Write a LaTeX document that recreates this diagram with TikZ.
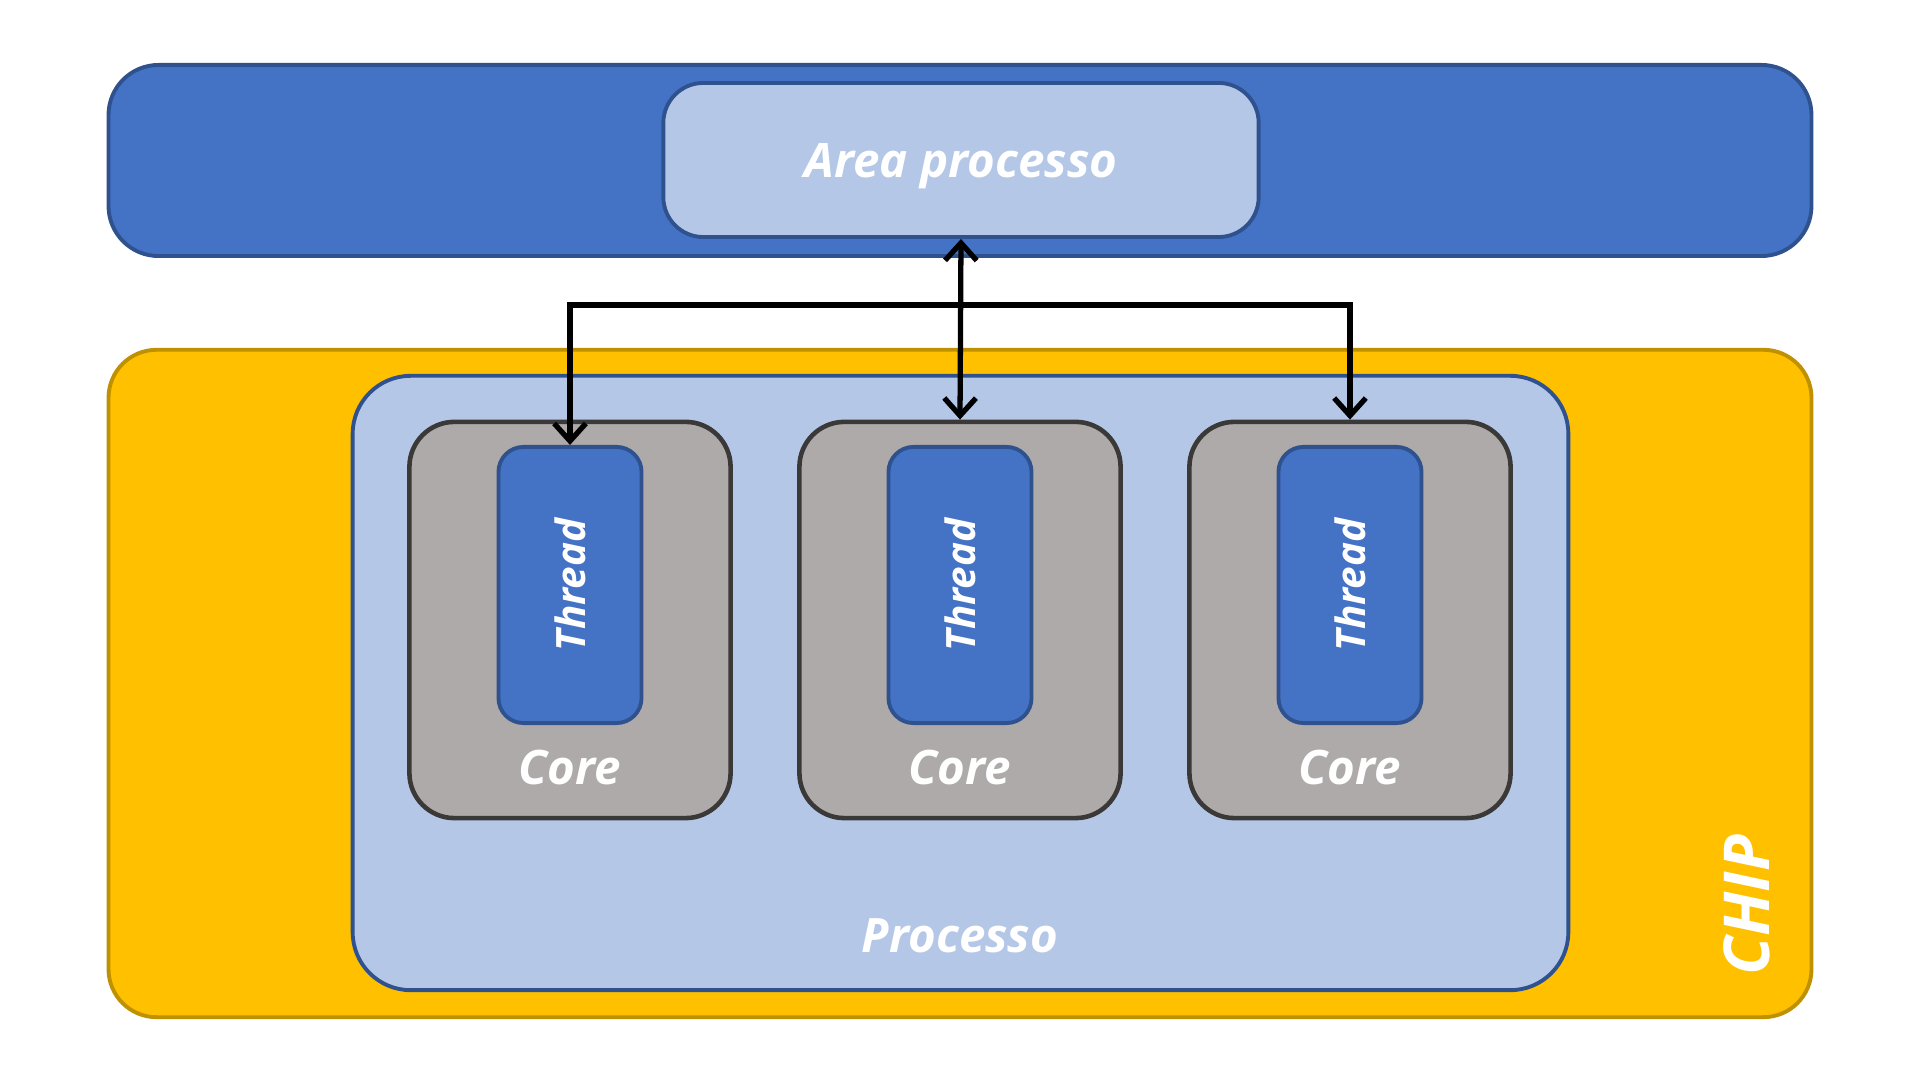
\documentclass[tikz,border=0pt]{standalone}
\usepackage{fontspec}
\setmainfont{Open Sans}
\usetikzlibrary{arrows.meta}

\definecolor{barblue}{HTML}{4472C4}
\definecolor{lineblue}{HTML}{2F528F}
\definecolor{paleblue}{HTML}{B4C7E7}
\definecolor{chipyellow}{HTML}{FFC000}
\definecolor{lineyellow}{HTML}{BF9000}
\definecolor{coregray}{HTML}{AEAAAA}
\definecolor{linegray}{HTML}{3B3838}

\tikzset{
    box/.style={draw, line width=1.1pt, inner sep=0pt},
    lbl/.style={text=white, font=\bfseries\itshape, inner sep=0pt},
    link/.style={line width=1.5pt, {Straight Barb[length=5pt,width=9pt]}-{Straight Barb[length=5pt,width=9pt]}},
}

\begin{document}
\begin{tikzpicture}[x=0.01cm, y=-0.01cm]
    \useasboundingbox (0,0) rectangle (1920,1080);

    \node[box, fill=barblue, draw=lineblue, rounded corners=0.5cm, minimum width=17.02cm, minimum height=1.91cm] (bar) at (960,160.5) {};
    \node[box, fill=paleblue, draw=lineblue, rounded corners=0.4cm, minimum width=5.95cm, minimum height=1.54cm, lbl, text=white, text height=10.5pt, text depth=0.5pt, font=\fontsize{13.5}{16}\selectfont\bfseries\itshape] (area) at (961,160) {Area processo};

    \node[box, fill=chipyellow, draw=lineyellow, rounded corners=0.48cm, minimum width=17.02cm, minimum height=6.67cm] (chip) at (960,683.5) {};
    \node[box, fill=paleblue, draw=lineblue, rounded corners=0.58cm, minimum width=12.15cm, minimum height=6.14cm] (proc) at (960.5,683) {};

    % cores
    \node[box, fill=coregray, draw=linegray, line width=1.3pt, rounded corners=0.45cm, minimum width=3.21cm, minimum height=3.96cm] (c1) at (570,620) {};
    \node[box, fill=coregray, draw=linegray, line width=1.3pt, rounded corners=0.45cm, minimum width=3.21cm, minimum height=3.96cm] (c2) at (960,620) {};
    \node[box, fill=coregray, draw=linegray, line width=1.3pt, rounded corners=0.45cm, minimum width=3.21cm, minimum height=3.96cm] (c3) at (1350,620) {};

    % threads
    \node[box, fill=barblue, draw=lineblue, rounded corners=0.25cm, minimum width=1.43cm, minimum height=2.76cm] (t1) at (570,585) {};
    \node[box, fill=barblue, draw=lineblue, rounded corners=0.25cm, minimum width=1.43cm, minimum height=2.76cm] (t2) at (960,585) {};
    \node[box, fill=barblue, draw=lineblue, rounded corners=0.25cm, minimum width=1.43cm, minimum height=2.76cm] (t3) at (1350,585) {};

    \node[lbl, rotate=90, font=\fontsize{11.5}{14}\selectfont\bfseries\itshape] (tl1) at (t1) {Thread};
    \node[lbl, rotate=90, font=\fontsize{11.5}{14}\selectfont\bfseries\itshape] (tl2) at (t2) {Thread};
    \node[lbl, rotate=90, font=\fontsize{11.5}{14}\selectfont\bfseries\itshape] (tl3) at (t3) {Thread};

    \node[lbl, font=\fontsize{13.5}{16}\selectfont\bfseries\itshape] (cl1) at (570,768) {Core};
    \node[lbl, font=\fontsize{13.5}{16}\selectfont\bfseries\itshape] (cl2) at (960,768) {Core};
    \node[lbl, font=\fontsize{13.5}{16}\selectfont\bfseries\itshape] (cl3) at (1350,768) {Core};

    \node[lbl, font=\fontsize{13.5}{16}\selectfont\bfseries\itshape] (pl) at (960,936) {Processo};
    \node[lbl, rotate=90, font=\fontsize{18}{21}\selectfont\bfseries\itshape] (chipl) at (1747,905) {CHIP};

    % links to the process area
    \coordinate (bus) at (960,305);
    \draw[link] (area.south) -- (c2.north);
    \draw[link] (t1.north) -- (t1.north |- bus) -- (c3.north |- bus) -- (c3.north);

\end{tikzpicture}
\end{document}
